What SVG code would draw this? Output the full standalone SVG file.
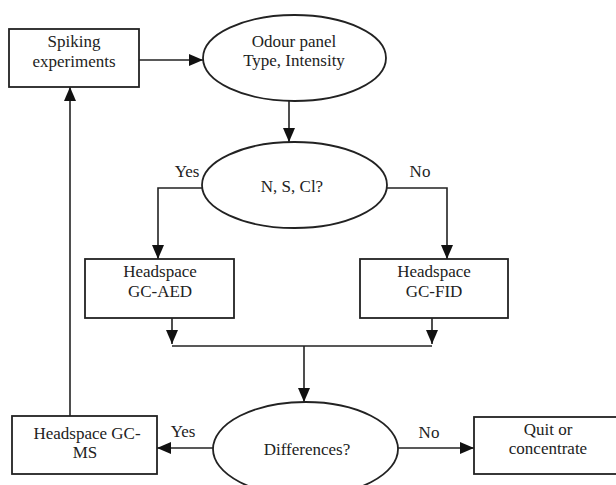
<svg xmlns="http://www.w3.org/2000/svg" width="616" height="485" viewBox="0 0 616 485">
<style>
.box{fill:#fff;stroke:#222;stroke-width:1.8}
.ell{fill:#fff;stroke:#222;stroke-width:1.8}
.t{font-family:"Liberation Serif","Times New Roman",serif;font-size:17px;fill:#222;text-anchor:middle}
.c{fill:none;stroke:#222;stroke-width:1.6}
.a{marker-end:url(#ah)}
</style>
<defs>
<marker id="ah" markerUnits="userSpaceOnUse" markerWidth="14" markerHeight="12" viewBox="0 0 14 12" refX="14" refY="6" orient="auto">
<path d="M0,0 L14,6 L0,12 Z" fill="#111"/>
</marker>
</defs>
<g id="connectors">
<line class="c a" x1="139" y1="60" x2="203" y2="60"/>
<line class="c a" x1="289" y1="101" x2="289" y2="142"/>
<polyline class="c a" points="202,188 158,188 158,259"/>
<polyline class="c a" points="387,188 447,188 447,259"/>
<line class="c a" x1="172" y1="318" x2="172" y2="344"/>
<line class="c a" x1="432" y1="318" x2="432" y2="344"/>
<line class="c" x1="172" y1="346" x2="432" y2="346"/>
<line class="c a" x1="304" y1="346" x2="304" y2="402"/>
<line class="c a" x1="213" y1="448" x2="157" y2="448"/>
<line class="c a" x1="398" y1="448" x2="474" y2="448"/>
<line class="c a" x1="70" y1="416" x2="70" y2="87"/>
<text class="t" x="187" y="177">Yes</text>
<text class="t" x="420" y="177">No</text>
<text class="t" x="183" y="437">Yes</text>
<text class="t" x="429" y="438">No</text>
</g>
<g id="spiking">
<rect class="box" x="9" y="29" width="130" height="58"/>
<text class="t" x="74" y="47">Spiking</text>
<text class="t" x="74" y="67">experiments</text>
</g>
<g id="odour">
<ellipse class="ell" cx="294.5" cy="58" rx="91.5" ry="43"/>
<text class="t" x="294" y="47">Odour panel</text>
<text class="t" x="294" y="66">Type, Intensity</text>
</g>
<g id="nscl">
<ellipse class="ell" cx="294.5" cy="185" rx="92.5" ry="43"/>
<text class="t" x="292" y="192">N, S, Cl?</text>
</g>
<g id="aed">
<rect class="box" x="85" y="259" width="149" height="59"/>
<text class="t" x="160" y="277">Headspace</text>
<text class="t" x="160" y="297">GC-AED</text>
</g>
<g id="fid">
<rect class="box" x="360" y="259" width="148" height="59"/>
<text class="t" x="434" y="277">Headspace</text>
<text class="t" x="434" y="297">GC-FID</text>
</g>
<g id="differences">
<ellipse class="ell" cx="305.5" cy="449" rx="92.5" ry="47"/>
<text class="t" x="307" y="455">Differences?</text>
</g>
<g id="gcms">
<rect class="box" x="12" y="416" width="145" height="58"/>
<text class="t" x="87" y="439">Headspace GC-</text>
<text class="t" x="85" y="458">MS</text>
</g>
<g id="quit">
<rect class="box" x="474" y="417" width="148" height="57"/>
<text class="t" x="548" y="435">Quit or</text>
<text class="t" x="548" y="454">concentrate</text>
</g>
</svg>
